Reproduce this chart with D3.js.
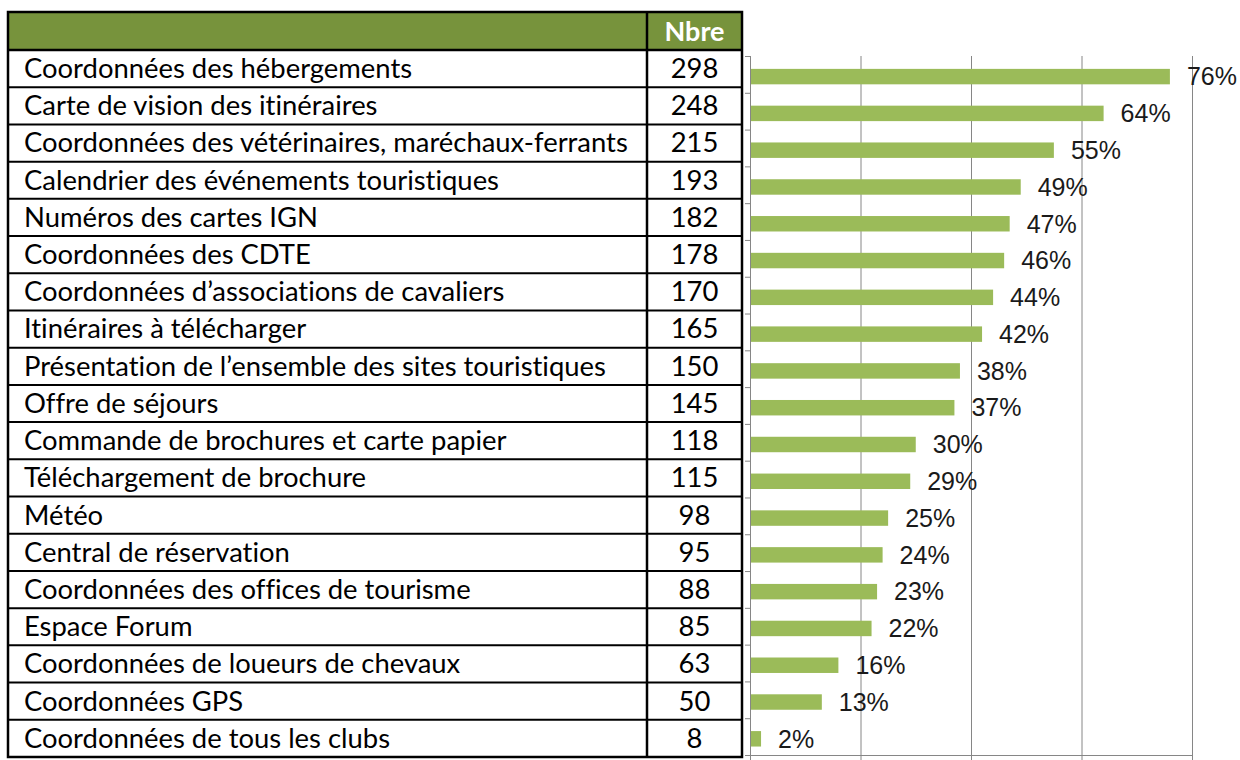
<!DOCTYPE html>
<html>
<head>
<meta charset="utf-8">
<script src="https://cdn.jsdelivr.net/npm/d3@7"></script>
<style>
  html, body { margin: 0; padding: 0; background: #fff; }
  svg { display: block; }
  text { font-variant-ligatures: none; font-feature-settings: "liga" 0, "clig" 0; }
</style>
</head>
<body>
<svg id="chart" width="1240" height="760"></svg>
<script>
// Services souhaités : nombre de réponses et part des répondants
const categories = [
  "Coordonnées des hébergements",
  "Carte de vision des itinéraires",
  "Coordonnées des vétérinaires, maréchaux-ferrants",
  "Calendrier des événements touristiques",
  "Numéros des cartes IGN",
  "Coordonnées des CDTE",
  "Coordonnées d’associations de cavaliers",
  "Itinéraires à télécharger",
  "Présentation de l’ensemble des sites touristiques",
  "Offre de séjours",
  "Commande de brochures et carte papier",
  "Téléchargement de brochure",
  "Météo",
  "Central de réservation",
  "Coordonnées des offices de tourisme",
  "Espace Forum",
  "Coordonnées de loueurs de chevaux",
  "Coordonnées GPS",
  "Coordonnées de tous les clubs"
];
const counts = [298, 248, 215, 193, 182, 178, 170, 165, 150, 145, 118, 115, 98, 95, 88, 85, 63, 50, 8];
const percents = [76, 64, 55, 49, 47, 46, 44, 42, 38, 37, 30, 29, 25, 24, 23, 22, 16, 13, 2];
const xTicks = [0, 20, 40, 60, 80];
const headerLabel = "Nbre";

const svg = d3.select("#chart");

// ---------- Table ----------
const tbl = { left: 8, right: 742, top: 12, headerBottom: 50, bottom: 757, colSplit: 647 };
const rowH = (tbl.bottom - tbl.headerBottom) / categories.length;
const tableFont = "Lato, 'Open Sans', 'Noto Sans', sans-serif";

const table = svg.append("g");

table.append("rect")
  .attr("x", tbl.left).attr("y", tbl.top)
  .attr("width", tbl.right - tbl.left).attr("height", tbl.headerBottom - tbl.top)
  .attr("fill", "#77933C");

table.append("text")
  .attr("x", (tbl.colSplit + tbl.right) / 2)
  .attr("y", 41)
  .attr("text-anchor", "middle")
  .attr("font-family", tableFont)
  .attr("font-weight", "bold")
  .attr("font-size", 27)
  .attr("fill", "#fff")
  .text(headerLabel);

const rows = table.selectAll("g.row")
  .data(categories)
  .join("g")
  .attr("class", "row")
  .attr("transform", (d, i) => `translate(0,${tbl.headerBottom + i * rowH})`);

const labels = rows.append("text")
  .attr("x", 24)
  .attr("y", 28)
  .attr("font-family", tableFont)
  .attr("font-size", 22)
  .attr("fill", "#000")
  .text(d => d);

// fit the label font so the longest label spans the first column
const longest = d3.max(labels.nodes(), n => n.getComputedTextLength());
const labelSize = 22 * 604 / longest;
labels.attr("font-size", labelSize);

rows.append("text")
  .attr("x", (tbl.colSplit + tbl.right) / 2)
  .attr("y", 28)
  .attr("text-anchor", "middle")
  .attr("font-family", tableFont)
  .attr("font-size", labelSize)
  .attr("fill", "#000")
  .text((d, i) => counts[i]);

// grid lines of the table
const hLines = d3.range(1, categories.length).map(i => tbl.headerBottom + i * rowH);
table.selectAll("line.h")
  .data(hLines)
  .join("line")
  .attr("x1", tbl.left).attr("x2", tbl.right)
  .attr("y1", d => d).attr("y2", d => d)
  .attr("stroke", "#000").attr("stroke-width", 2);

table.append("line")
  .attr("x1", tbl.left).attr("x2", tbl.right)
  .attr("y1", tbl.headerBottom).attr("y2", tbl.headerBottom)
  .attr("stroke", "#000").attr("stroke-width", 2.5);

table.append("line")
  .attr("x1", tbl.colSplit).attr("x2", tbl.colSplit)
  .attr("y1", tbl.top).attr("y2", tbl.bottom)
  .attr("stroke", "#000").attr("stroke-width", 2.5);

table.append("rect")
  .attr("x", tbl.left).attr("y", tbl.top)
  .attr("width", tbl.right - tbl.left).attr("height", tbl.bottom - tbl.top)
  .attr("fill", "none")
  .attr("stroke", "#000").attr("stroke-width", 2.5);

// ---------- Bar chart ----------
const plot = { left: 750, right: 1192, top: 56, bottom: 755 };

const x = d3.scaleLinear().domain([0, 80]).range([plot.left, plot.right]);
const y = d3.scaleBand().domain(d3.range(categories.length)).range([plot.top, plot.bottom]);
const yEdges = d3.scaleLinear().domain([0, categories.length]).range([plot.top, plot.bottom]);

const chart = svg.append("g");

// vertical gridlines
chart.append("g")
  .attr("transform", `translate(0,${plot.bottom})`)
  .call(d3.axisBottom(x).tickValues(xTicks).tickSize(-(plot.bottom - plot.top)).tickFormat(""))
  .call(g => g.select(".domain").remove())
  .call(g => g.selectAll(".tick line").attr("stroke", "#868686").attr("stroke-width", 1));

// bars
const bw = y.bandwidth();
chart.selectAll("rect.bar")
  .data(percents)
  .join("rect")
  .attr("class", "bar")
  .attr("x", x(0) + 1)
  .attr("y", (d, i) => y(i) + bw * 0.35)
  .attr("width", d => x(d) - x(0) - 1)
  .attr("height", bw * 0.42)
  .attr("fill", "#9BBB59");

// value labels
chart.selectAll("text.val")
  .data(percents)
  .join("text")
  .attr("class", "val")
  .attr("x", d => x(d) + 17)
  .attr("y", (d, i) => y(i) + bw * 0.56)
  .attr("dy", "0.35em")
  .attr("font-family", "'Liberation Sans', Arial, sans-serif")
  .attr("font-size", 25)
  .attr("fill", "#1a1a1a")
  .text(d => d + "%");

// bottom axis
chart.append("g")
  .attr("transform", `translate(0,${plot.bottom})`)
  .call(d3.axisBottom(x).tickValues(xTicks).tickSize(5).tickFormat(""))
  .call(g => g.selectAll("path, line").attr("stroke", "#868686"));

// left axis with ticks on category boundaries
chart.append("g")
  .attr("transform", `translate(${plot.left},0)`)
  .call(d3.axisLeft(yEdges).tickValues(d3.range(categories.length + 1)).tickSize(5).tickSizeOuter(0).tickFormat(""))
  .call(g => g.selectAll("path, line").attr("stroke", "#868686"));
</script>
</body>
</html>
